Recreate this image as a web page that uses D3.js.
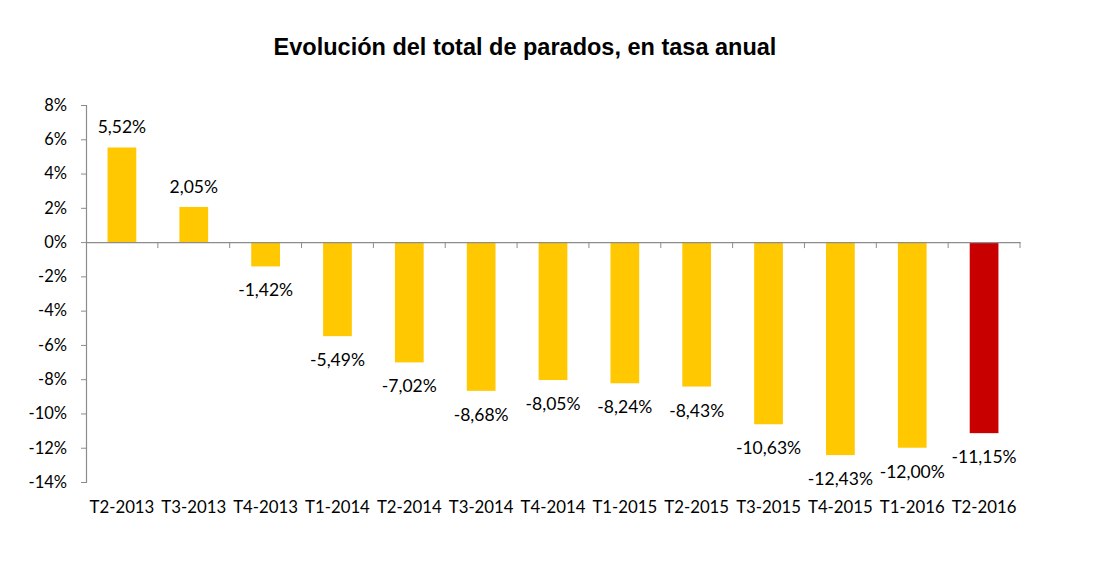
<!DOCTYPE html>
<html><head><meta charset="utf-8">
<script src="https://cdn.jsdelivr.net/npm/d3@7"></script>
<style>body{margin:0;background:#fff}svg{display:block}</style>
</head><body>
<svg id="c" width="1114" height="564"></svg>
<script>
const categories = ["T2-2013","T3-2013","T4-2013","T1-2014","T2-2014","T3-2014","T4-2014","T1-2015","T2-2015","T3-2015","T4-2015","T1-2016","T2-2016"];
const values = [5.52, 2.05, -1.42, -5.49, -7.02, -8.68, -8.05, -8.24, -8.43, -10.63, -12.43, -12.00, -11.15];
const yTicks = [8, 6, 4, 2, 0, -2, -4, -6, -8, -10, -12, -14];
const title = "Evolución del total de parados, en tasa anual";

const svg = d3.select("#c");
const mLeft = 86, mRight = 1020, mTop = 105, mBottom = 482;
const x = d3.scaleBand().domain(categories).range([mLeft, mRight]).paddingInner(0.6).paddingOuter(0.3);
const xb = d3.scaleBand().domain(categories).range([mLeft, mRight]);
const y = d3.scaleLinear().domain([-14, 8]).range([mBottom, mTop]);
const font = "Lato, 'Open Sans', sans-serif";

svg.append("text").attr("x", 525).attr("y", 55).attr("text-anchor", "middle")
  .attr("font-family", "'Liberation Sans', Arial, sans-serif").attr("font-weight", "bold")
  .attr("font-size", 23.5).attr("fill", "#000").text(title);

// y axis
const ya = svg.append("g").attr("transform", `translate(${mLeft},0)`)
  .call(d3.axisLeft(y).tickValues(yTicks).tickSize(5).tickFormat(d => d + "%"));
ya.select(".domain").attr("stroke", "#8c8c8c").attr("stroke-width", 1.2);
ya.selectAll(".tick line").attr("stroke", "#8c8c8c");
ya.selectAll(".tick text").attr("font-family", font).attr("font-size", 16.5).attr("fill", "#000").attr("x", -19);

// bars
svg.append("g").selectAll("rect").data(values).join("rect")
  .attr("x", (d, i) => x(categories[i]))
  .attr("width", x.bandwidth())
  .attr("y", d => y(Math.max(0, d)))
  .attr("height", d => Math.abs(y(d) - y(0)))
  .attr("fill", (d, i) => i === values.length - 1 ? "#c80000" : "#ffc800");

// x axis at zero
const xa = svg.append("g").attr("transform", `translate(0,${y(0)})`)
  .call(d3.axisBottom(xb).tickSize(0).tickFormat(""));
xa.select(".domain").attr("stroke", "#8c8c8c").attr("stroke-width", 1.2);
const bounds = categories.map(c => xb(c) + xb.bandwidth());
svg.append("g").selectAll("line").data(bounds).join("line")
  .attr("x1", d => d).attr("x2", d => d)
  .attr("y1", y(0)).attr("y2", y(0) + 6).attr("stroke", "#8c8c8c");

// category labels
svg.append("g").selectAll("text").data(categories).join("text")
  .attr("x", d => xb(d) + xb.bandwidth() / 2).attr("y", 513)
  .attr("text-anchor", "middle").attr("font-family", font).attr("font-size", 16.8)
  .attr("fill", "#000").text(d => d);

// value labels
svg.append("g").selectAll("text").data(values).join("text")
  .attr("x", (d, i) => xb(categories[i]) + xb.bandwidth() / 2)
  .attr("y", d => d >= 0 ? y(d) - 14 : y(d) + 30)
  .attr("text-anchor", "middle").attr("font-family", font).attr("font-size", 17.5)
  .attr("fill", "#000").text(d => d.toFixed(2).replace(".", ",") + "%");
</script>
</body></html>
